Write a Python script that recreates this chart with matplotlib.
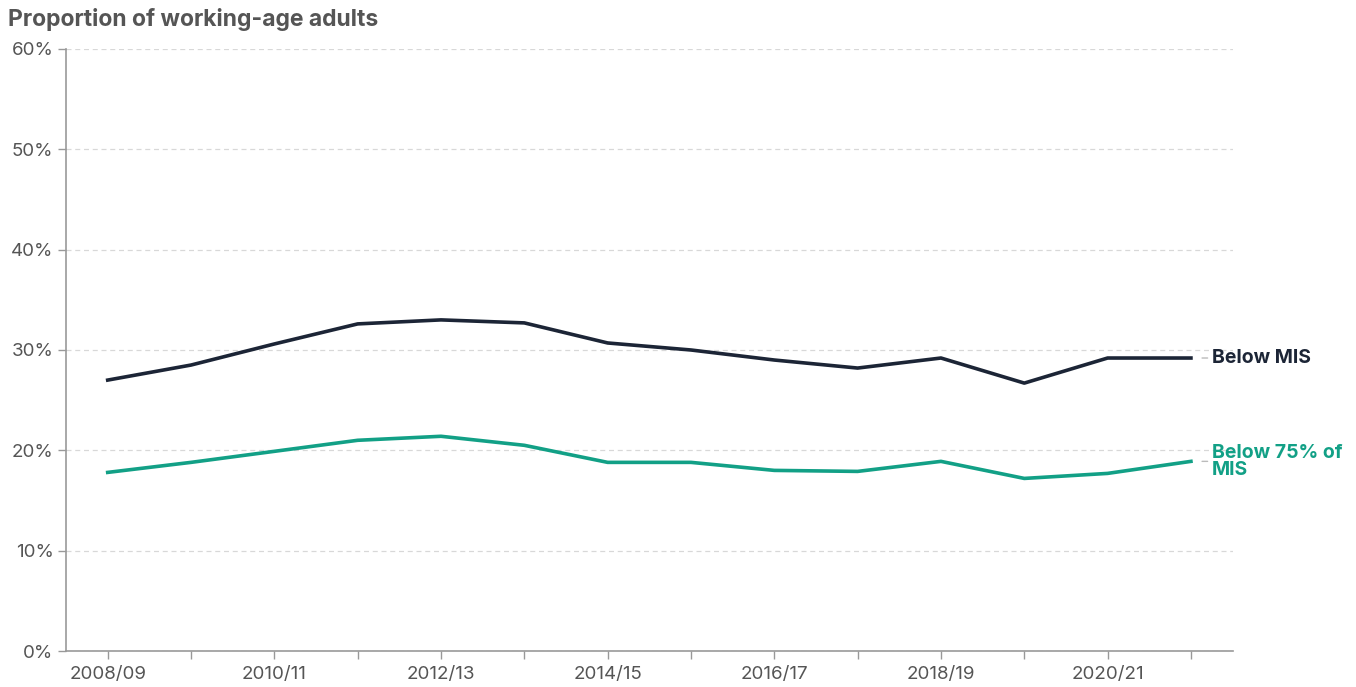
import matplotlib
matplotlib.use("Agg")
import matplotlib.pyplot as plt
from matplotlib.ticker import FuncFormatter

# data
years = ['2008/09', '2009/10', '2010/11', '2011/12', '2012/13', '2013/14', '2014/15',
         '2015/16', '2016/17', '2017/18', '2018/19', '2019/20', '2020/21', '2021/22']
below_mis = [27.0, 28.5, 30.6, 32.6, 33.0, 32.7, 30.7, 30.0, 29.0, 28.2, 29.2, 26.7, 29.2, 29.2]
below_75_mis = [17.8, 18.8, 19.9, 21.0, 21.4, 20.5, 18.8, 18.8, 18.0, 17.9, 18.9, 17.2, 17.7, 18.9]
series_labels = ['Below MIS', 'Below 75% of\nMIS']
y_ticks = [0, 10, 20, 30, 40, 50, 60]

navy = '#1c2536'
green = '#12a086'
grey_text = '#555555'
axis_grey = '#999999'

plt.rcParams['font.family'] = ['Inter', 'DejaVu Sans']

fig = plt.figure(figsize=(13.56, 6.87), dpi=100)
ax = fig.add_axes([0.0487, 0.0524, 0.8603, 0.8763])

x = list(range(len(years)))
ax.plot(x, below_mis, color=navy, lw=2.6, solid_joinstyle='round')
ax.plot(x, below_75_mis, color=green, lw=2.6, solid_joinstyle='round')

ax.set_xlim(-0.5, len(years) - 0.5)
ax.set_ylim(0, 60)
ax.set_yticks(y_ticks)
ax.yaxis.set_major_formatter(FuncFormatter(lambda v, p: f'{v:.0f}%'))
ax.set_xticks(x)
ax.set_xticklabels([y if i % 2 == 0 else '' for i, y in enumerate(years)])

ax.grid(axis='y', color='#d8d8d8', linestyle=(0, (4, 3)), lw=0.9)
ax.set_axisbelow(True)
for s in ['top', 'right']:
    ax.spines[s].set_visible(False)
for s in ['left', 'bottom']:
    ax.spines[s].set_color(axis_grey)
    ax.spines[s].set_linewidth(1.2)
ax.tick_params(axis='both', colors=axis_grey, labelcolor=grey_text, labelsize=13.5,
               length=6, width=1)
ax.tick_params(axis='x', pad=5)
ax.tick_params(axis='y', pad=3)

# end labels with a short connector
for vals, lab, col in [(below_mis, series_labels[0], navy), (below_75_mis, series_labels[1], green)]:
    ax.annotate(lab, xy=(x[-1], vals[-1]), xytext=(15, 0), textcoords='offset points',
                ha='left', va='center', color=col, fontsize=14, fontweight='bold',
                linespacing=0.9, annotation_clip=False)
    ax.annotate('', xy=(x[-1], vals[-1]), xytext=(12, 0), textcoords='offset points',
                arrowprops=dict(arrowstyle='-', color='#bbbbbb', lw=1, shrinkA=0, shrinkB=8),
                annotation_clip=False)

fig.text(0.006, 0.972, 'Proportion of working-age adults', fontsize=16.5, fontweight='bold',
         color=grey_text, ha='left', va='center')

fig.savefig('out.png', dpi=100, facecolor='white')
